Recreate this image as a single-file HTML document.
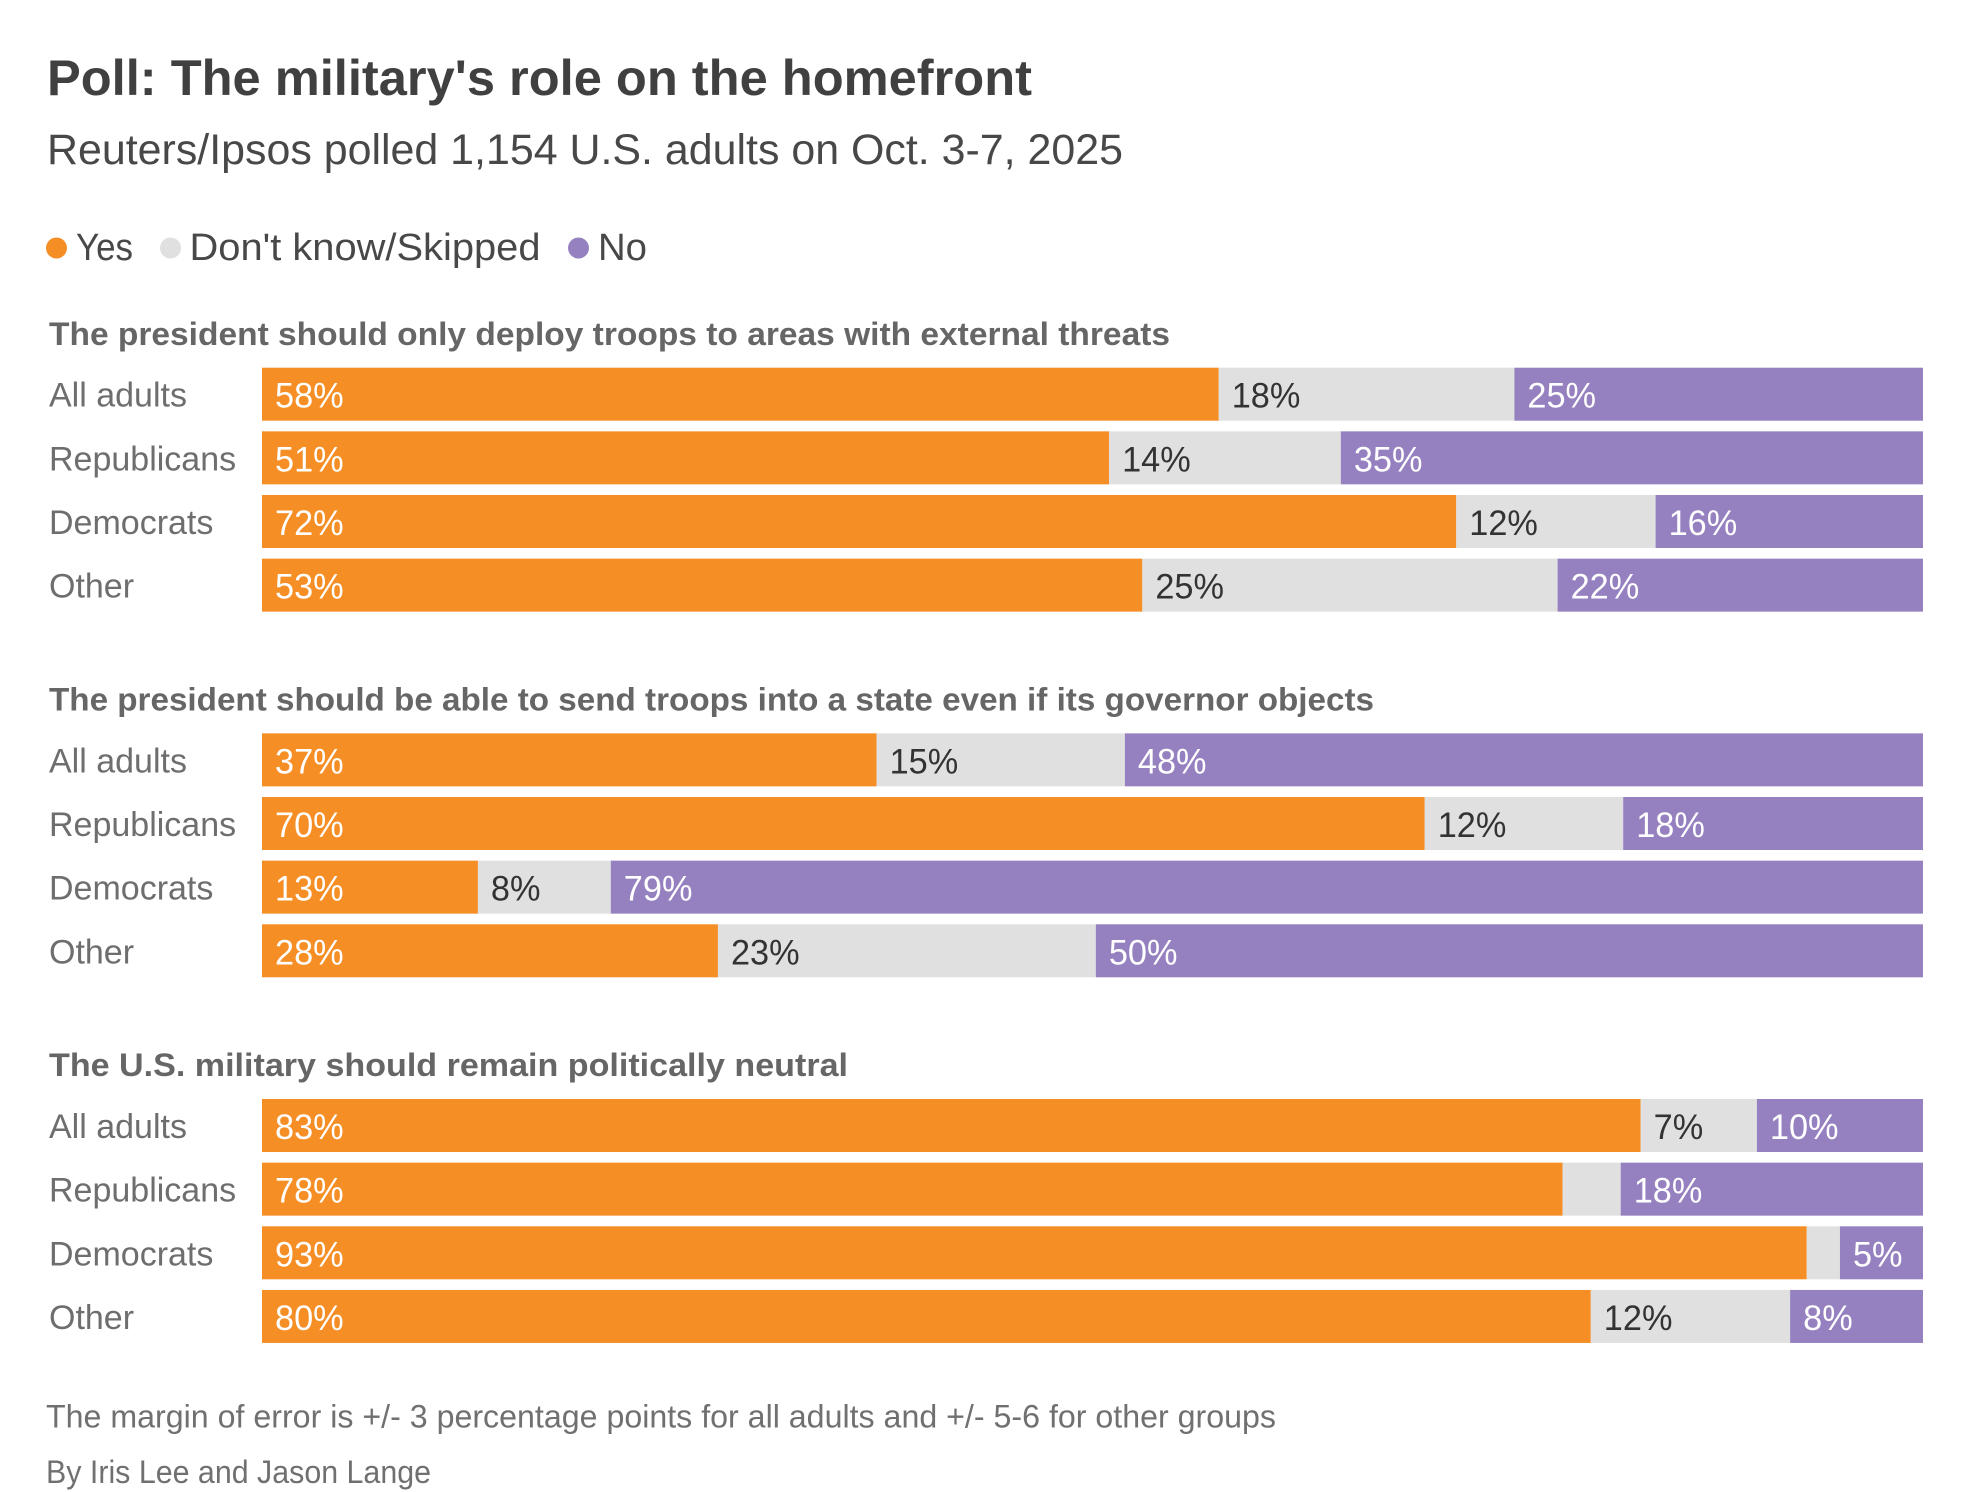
<!DOCTYPE html>
<html lang="en">
<head>
<meta charset="utf-8">
<title>Poll: The military's role on the homefront</title>
<style>
html,body{margin:0;padding:0;background:#fff;width:1964px;height:1492px;overflow:hidden}
svg{display:block}
text{font-family:"Liberation Sans",sans-serif}
.title{font-size:50px;font-weight:700;fill:#404040}
.subtitle{font-size:43px;fill:#484848}
.legend{font-size:38px;fill:#484848}
.section{font-size:32px;font-weight:700;fill:#666}
.row{font-size:34px;fill:#6e6e6e}
.value{font-size:35px}
.foot{font-size:32px;fill:#707070}
</style>
</head>
<body>
<svg id="chart" width="1964" height="1492" viewBox="0 0 1964 1492" xmlns="http://www.w3.org/2000/svg">
  <rect width="1964" height="1492" fill="#fff"/>
  <text class="title" x="47" y="95" textLength="985" lengthAdjust="spacingAndGlyphs">Poll: The military's role on the homefront</text>
  <text class="subtitle" x="47" y="164" textLength="1076" lengthAdjust="spacingAndGlyphs">Reuters/Ipsos polled 1,154 U.S. adults on Oct. 3-7, 2025</text>

  <g>
    <circle cx="56.5" cy="248" r="10.5" fill="#f68e26"/>
    <text class="legend" x="76" y="260" textLength="57" lengthAdjust="spacingAndGlyphs">Yes</text>
    <circle cx="170.5" cy="248" r="10.5" fill="#e0e0e0"/>
    <text class="legend" x="189.5" y="260" textLength="351" lengthAdjust="spacingAndGlyphs">Don't know/Skipped</text>
    <circle cx="578.5" cy="248" r="10.5" fill="#9681c0"/>
    <text class="legend" x="598" y="260" textLength="49" lengthAdjust="spacingAndGlyphs">No</text>
  </g>

  <text class="section" x="49" y="345" textLength="1121" lengthAdjust="spacingAndGlyphs">The president should only deploy troops to areas with external threats</text>
  <text class="section" x="49" y="710.5" textLength="1325" lengthAdjust="spacingAndGlyphs">The president should be able to send troops into a state even if its governor objects</text>
  <text class="section" x="49" y="1076" textLength="799" lengthAdjust="spacingAndGlyphs">The U.S. military should remain politically neutral</text>

  <g id="bars"></g>

  <text class="foot" x="46" y="1427.5" textLength="1230" lengthAdjust="spacingAndGlyphs">The margin of error is +/- 3 percentage points for all adults and +/- 5-6 for other groups</text>
  <text class="foot" x="46" y="1483" textLength="385" lengthAdjust="spacingAndGlyphs">By Iris Lee and Jason Lange</text>
</svg>
<script>
const groups = ["All adults", "Republicans", "Democrats", "Other"];
const questions = ["external-threats", "governor-objects", "politically-neutral"];

const yesValues = [
  [57.6, 51.0, 71.9, 53.0],
  [37.0, 70.0, 13.0, 27.45],
  [83.0, 78.3, 93.0, 80.0]
];
const dontKnowValues = [
  [17.8, 13.95, 12.0, 25.0],
  [14.95, 11.95, 8.0, 22.75],
  [7.0, 3.5, 2.0, 12.0]
];
const noValues = [
  [24.6, 35.05, 16.1, 22.0],
  [48.05, 18.05, 79.0, 49.8],
  [10.0, 18.2, 5.0, 8.0]
];

const yesLabels = [
  ["58%", "51%", "72%", "53%"],
  ["37%", "70%", "13%", "28%"],
  ["83%", "78%", "93%", "80%"]
];
const dontKnowLabels = [
  ["18%", "14%", "12%", "25%"],
  ["15%", "12%", "8%", "23%"],
  ["7%", "", "", "12%"]
];
const noLabels = [
  ["25%", "35%", "16%", "22%"],
  ["48%", "18%", "79%", "50%"],
  ["10%", "18%", "5%", "8%"]
];

const NS = "http://www.w3.org/2000/svg";
const root = document.getElementById("bars");

function xScale(v) { return 262 + v / 100 * 1661; }
function yScale(q, r) { return 367.7 + q * 365.65 + r * 63.65; }

const BAR_H = 53;

function addSegment(parent, start, width, y, fill) {
  const rect = document.createElementNS(NS, "rect");
  rect.setAttribute("x", xScale(start));
  rect.setAttribute("y", y);
  rect.setAttribute("width", xScale(start + width) - xScale(start));
  rect.setAttribute("height", BAR_H);
  rect.setAttribute("fill", fill);
  
  
  parent.appendChild(rect);
}

function addValue(parent, start, y, label, fill) {
  if (!label) return;
  const t = document.createElementNS(NS, "text");
  t.setAttribute("class", "value");
  t.setAttribute("fill", fill);
  t.setAttribute("transform", "translate(" + (xScale(start) + 13) + "," + (y + 40) + ") scale(0.98,1)");
  t.textContent = label;
  
  
  parent.appendChild(t);
}

questions.forEach(function (question, q) {
  const section = document.createElementNS(NS, "g");
  
  
  root.appendChild(section);

  groups.forEach(function (group, r) {
    const y = yScale(q, r);
    const yes = yesValues[q][r];
    const dk = dontKnowValues[q][r];
    const no = noValues[q][r];

    const label = document.createElementNS(NS, "text");
    label.setAttribute("class", "row");
    label.setAttribute("x", 49);
    label.setAttribute("y", y + 39);
    label.textContent = group;
    
    
    section.appendChild(label);

    addSegment(section, 0, yes, y, "#f68e26");
    addSegment(section, yes, dk, y, "#e0e0e0");
    addSegment(section, yes + dk, no, y, "#9681c0");

    addValue(section, 0, y, yesLabels[q][r], "#ffffff");
    addValue(section, yes, y, dontKnowLabels[q][r], "#333333");
    addValue(section, yes + dk, y, noLabels[q][r], "#ffffff");
  });
});
</script>
</body>
</html>
